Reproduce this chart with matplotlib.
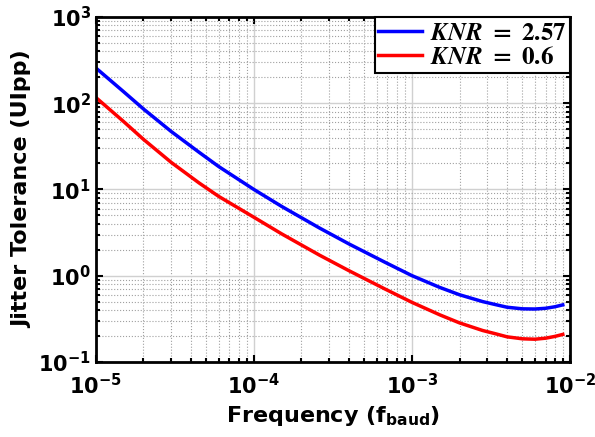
import matplotlib
matplotlib.use('Agg')
import matplotlib.pyplot as plt

#values (log-log)
freq = [1e-5, 1.5e-5, 2e-5, 3e-5, 4.5e-5, 6e-5, 1e-4, 1.5e-4, 2.6e-4, 4e-4, 6.75e-4,
        1e-3, 1.5e-3, 2e-3, 2.8e-3, 3.4e-3, 4e-3, 5e-3, 6e-3, 7e-3, 8e-3, 9e-3]
jtol_high = [257, 136, 86, 47, 27, 18.4, 10, 6.35, 3.57, 2.33, 1.43,
             1.0, 0.73, 0.60, 0.50, 0.46, 0.43, 0.412, 0.41, 0.418, 0.435, 0.458]
jtol_low = [116.8, 61.3, 38.2, 20.6, 11.9, 8.29, 4.76, 3.05, 1.73, 1.14, 0.70,
            0.49, 0.351, 0.283, 0.231, 0.211, 0.195, 0.185, 0.183, 0.188, 0.197, 0.208]
labels = [r'$\boldsymbol{KNR\ =\ 2.57}$', r'$\boldsymbol{KNR\ =\ 0.6}$']

plt.rcParams['mathtext.fontset'] = 'stix'
plt.rcParams['font.weight'] = 'bold'

fig = plt.figure(figsize=(5.95, 4.37), dpi=100)
ax = fig.add_axes([0.161, 0.172, 0.797, 0.789])

ax.plot(freq, jtol_high, color='blue', lw=2.5, label=labels[0])
ax.plot(freq, jtol_low, color='red', lw=2.5, label=labels[1])

ax.set_xscale('log')
ax.set_yscale('log')
ax.set_xlim(1e-5, 1e-2)
ax.set_ylim(1e-1, 1e3)

ax.grid(True, which='major', color='#d0d0d0', lw=1.0, ls='-')
ax.grid(True, which='minor', color='#a0a0a0', lw=0.8, ls=':')
ax.set_axisbelow(True)

ax.tick_params(which='both', direction='in', top=True, right=True, labelsize=15, width=1.5)
ax.tick_params(which='major', length=5)
ax.tick_params(which='minor', length=3)
ax.tick_params(axis='x', pad=8)
for s in ax.spines.values():
    s.set_linewidth(2)
for t in ax.get_xticklabels() + ax.get_yticklabels():
    t.set_fontweight('bold')

ax.set_xlabel(r'Frequency (f$_{\mathbf{baud}}$)', fontsize=16, fontweight='bold',
              math_fontfamily='dejavusans')
ax.set_ylabel('Jitter Tolerance (UIpp)', fontsize=16, fontweight='bold')

leg = ax.legend(loc='upper right', fontsize=18, fancybox=False, edgecolor='black',
                framealpha=1, borderaxespad=0, handlelength=1.75, labelspacing=0.0,
                borderpad=0.15, handletextpad=0.3)
leg.get_frame().set_linewidth(1.5)

fig.savefig('out.png', dpi=100)
